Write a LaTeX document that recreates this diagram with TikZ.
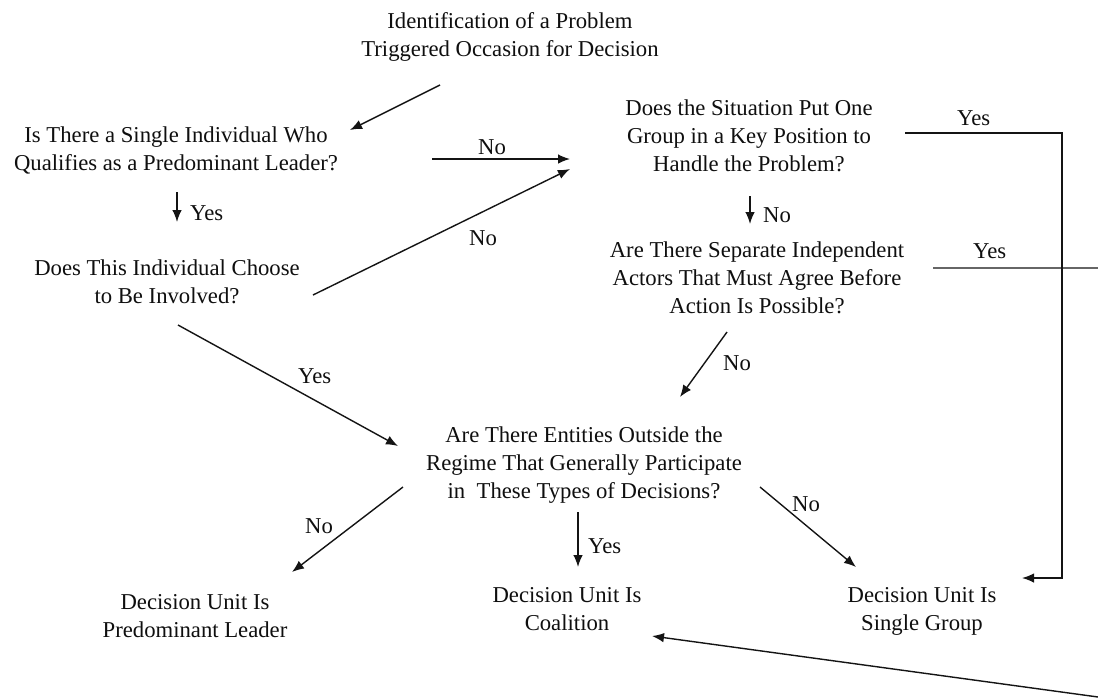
\documentclass[tikz,border=0pt]{standalone}
\usepackage{fontspec}
\setmainfont{Liberation Serif}
\usepackage{tikz}
\usetikzlibrary{arrows.meta,calc}
\definecolor{figline}{RGB}{20,20,20}
\definecolor{figtext}{RGB}{15,15,15}
\tikzset{
  question/.style={anchor=north, inner sep=0pt, align=center, text=figtext, font=\fontsize{22.7}{28}\selectfont},
  outcome/.style={anchor=north, inner sep=0pt, align=center, text=figtext, font=\fontsize{22.7}{28}\selectfont},
  figlabel/.style={anchor=base west, inner sep=0pt, text=figtext, font=\fontsize{22.7}{28}\selectfont},
  line/.style={-{Latex[length=12pt,width=9.5pt]}, draw=figline, line width=1.4pt}
}

\begin{document}
\begin{tikzpicture}[x=1pt,y=-1pt]
  \clip (0,0) rectangle (1098,697);
  \fill[white] (0,0) rectangle (1098,697);
  \node[question] (title) at (510,12.5) {Identification of a Problem\\Triggered Occasion for Decision};
  \node[question] (q1) at (176,126.5) {Is There a Single Individual Who\\Qualifies as a Predominant Leader?};
  \node[question] (q2) at (167,259.5) {Does This Individual Choose\\to Be Involved?};
  \node[question] (q3) at (749,99.5) {Does the Situation Put One\\Group in a Key Position to\\Handle the Problem?};
  \node[question] (q4) at (757,241.5) {Are There Separate Independent\\Actors That Must Agree Before\\Action Is Possible?};
  \node[question] (q5) at (584,426.5) {Are There Entities Outside the\\Regime That Generally Participate\\in\ \ These Types of Decisions?};
  \node[outcome] (o1) at (195,594.5) {Decision Unit Is\\Predominant Leader};
  \node[outcome] (o2) at (567,587.5) {Decision Unit Is\\Coalition};
  \node[outcome] (o3) at (922,587.5) {Decision Unit Is\\Single Group};
  \node[figlabel, anchor=base] (no1) at (492,154) {No};
  \node[figlabel, anchor=base] (no2) at (483,245) {No};
  \node[figlabel] (yes1) at (190,220) {Yes};
  \node[figlabel] (no3) at (763,222) {No};
  \node[figlabel] (no4) at (723,370) {No};
  \node[figlabel] (yes2) at (298,383) {Yes};
  \node[figlabel] (no5) at (305,533) {No};
  \node[figlabel] (yes3) at (588,553) {Yes};
  \node[figlabel] (no6) at (792,511) {No};
  \node[figlabel] (yes4) at (957,125) {Yes};
  \node[figlabel] (yes5) at (973,258) {Yes};
  \draw[line] ($(title.north)+(-70,72.5)$) -- ($(q1.north)+(174,3.5)$);
  \draw[line] ($(q1.north)+(256,32.5)$) -- ($(q3.north)+(-179,59.5)$);
  \draw[line] ($(q2.north)+(146,35.5)$) -- ($(q3.north)+(-179,69.5)$);
  \draw[line] ($(q1.north)+(1,65.5)$) -- ($(q2.north)+(10,-37.5)$);
  \draw[line] ($(q3.north)+(1,96.5)$) -- ($(q4.north)+(-7,-17.5)$);
  \draw[line] ($(q4.north)+(-30,90.5)$) -- ($(q5.north)+(96,-29.5)$);
  \draw[line] ($(q2.north)+(11,65.5)$) -- ($(q5.north)+(-186,19.5)$);
  \draw[line] ($(q5.north)+(-181,60.5)$) -- ($(o1.north)+(97,-22.5)$);
  \draw[line] ($(q5.north)+(-6,85.5)$) -- ($(o2.north)+(11,-20.5)$);
  \draw[line] ($(q5.north)+(176,60.5)$) -- ($(o3.north)+(-66,-20.5)$);
  \draw[line] ($(q3.north)+(156,33.5)$) -- ++(157,0) |- ($(o3.north)+(100,-9.5)$);
  \draw[line] ($(q4.north)+(176,26.5)$) -- ++(187,0) -- ++(0,432) -- ($(o2.north)+(85,48.5)$);
\end{tikzpicture}
\end{document}
